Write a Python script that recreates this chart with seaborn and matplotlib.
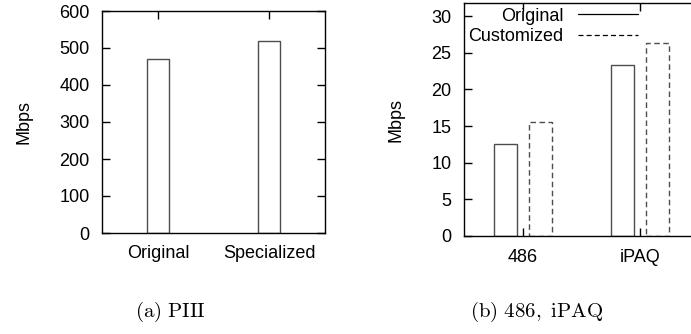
import matplotlib
matplotlib.use("Agg")
import matplotlib.pyplot as plt
import seaborn as sns
import pandas as pd
from matplotlib.lines import Line2D

# Data
piii_versions = ["Original", "Specialized"]
piii_mbps = [470, 518]

devices = ["486", "iPAQ"]
original_mbps = [12.6, 23.4]
customized_mbps = [15.5, 26.4]
series_names = ["Original", "Customized"]

sns.set_theme(style="white")
plt.rcParams["font.family"] = ["Liberation Sans", "DejaVu Sans"]
plt.rcParams["mathtext.fontset"] = "cm"
for k in ("text.color", "axes.labelcolor", "xtick.color", "ytick.color",
          "axes.edgecolor"):
    plt.rcParams[k] = "black"

EDGE = "#4d4d4d"
FS = 13
DASH = (0, (4, 2.5))

fig = plt.figure(figsize=(6.91, 3.34), dpi=100)
ax1 = fig.add_axes([102 / 691, 1 - 233 / 334, 223 / 691, 222 / 334])
ax2 = fig.add_axes([464 / 691, 1 - 236 / 334, 235 / 691, 233 / 334])

# Left: PIII
df1 = pd.DataFrame({"version": piii_versions, "mbps": piii_mbps})
sns.barplot(data=df1, x="version", y="mbps", ax=ax1, color="white",
            edgecolor=EDGE, linewidth=1.0, width=0.2, errorbar=None)
ax1.set_xlim(-0.505, 1.505)
ax1.set_ylim(0, 600)
ax1.set_yticks(range(0, 601, 100))

# Right: 486, iPAQ
df2 = pd.DataFrame({
    "device": devices * 2,
    "series": [series_names[0]] * 2 + [series_names[1]] * 2,
    "mbps": original_mbps + customized_mbps,
})
sns.barplot(data=df2, x="device", y="mbps", hue="series", ax=ax2,
            palette=["white", "white"], edgecolor=EDGE, linewidth=1.0,
            width=0.6, gap=1 / 3, errorbar=None, legend=False)
for c in ax2.containers[1]:
    c.set_linestyle(DASH)
ax2.set_xlim(-0.505, 1.505)
ax2.set_ylim(0, 31.8)
ax2.set_yticks(range(0, 31, 5))

handles = [Line2D([0], [0], color="black", lw=0.9, linestyle="-"),
           Line2D([0], [0], color="black", lw=0.9, linestyle=DASH)]
ax2.legend(handles, series_names, loc="upper left", frameon=False,
           markerfirst=False, handlelength=3.3, handletextpad=0.8,
           borderaxespad=0.0, borderpad=0.25, labelspacing=0.22,
           fontsize=FS, bbox_to_anchor=(0.0, 1.0))

for ax in (ax1, ax2):
    ax.set_xlabel("")
    ax.set_ylabel("Mbps", fontsize=FS, labelpad=19)
    ax.tick_params(direction="in", length=6, width=1.0, color="black",
                   top=True, right=True, left=True, bottom=True,
                   labelsize=FS, pad=9)
    for s in ax.spines.values():
        s.set_color("black")
        s.set_linewidth(1.0)
        s.set_visible(True)

fig.text(170 / 691, 1 - 312 / 334, r"$\mathrm{(a)\ PIII}$", ha="center",
         va="center", fontsize=15)
fig.text(537 / 691, 1 - 312 / 334, r"$\mathrm{(b)\ 486,\ iPAQ}$", ha="center",
         va="center", fontsize=15)

fig.savefig("out.png", dpi=100)
